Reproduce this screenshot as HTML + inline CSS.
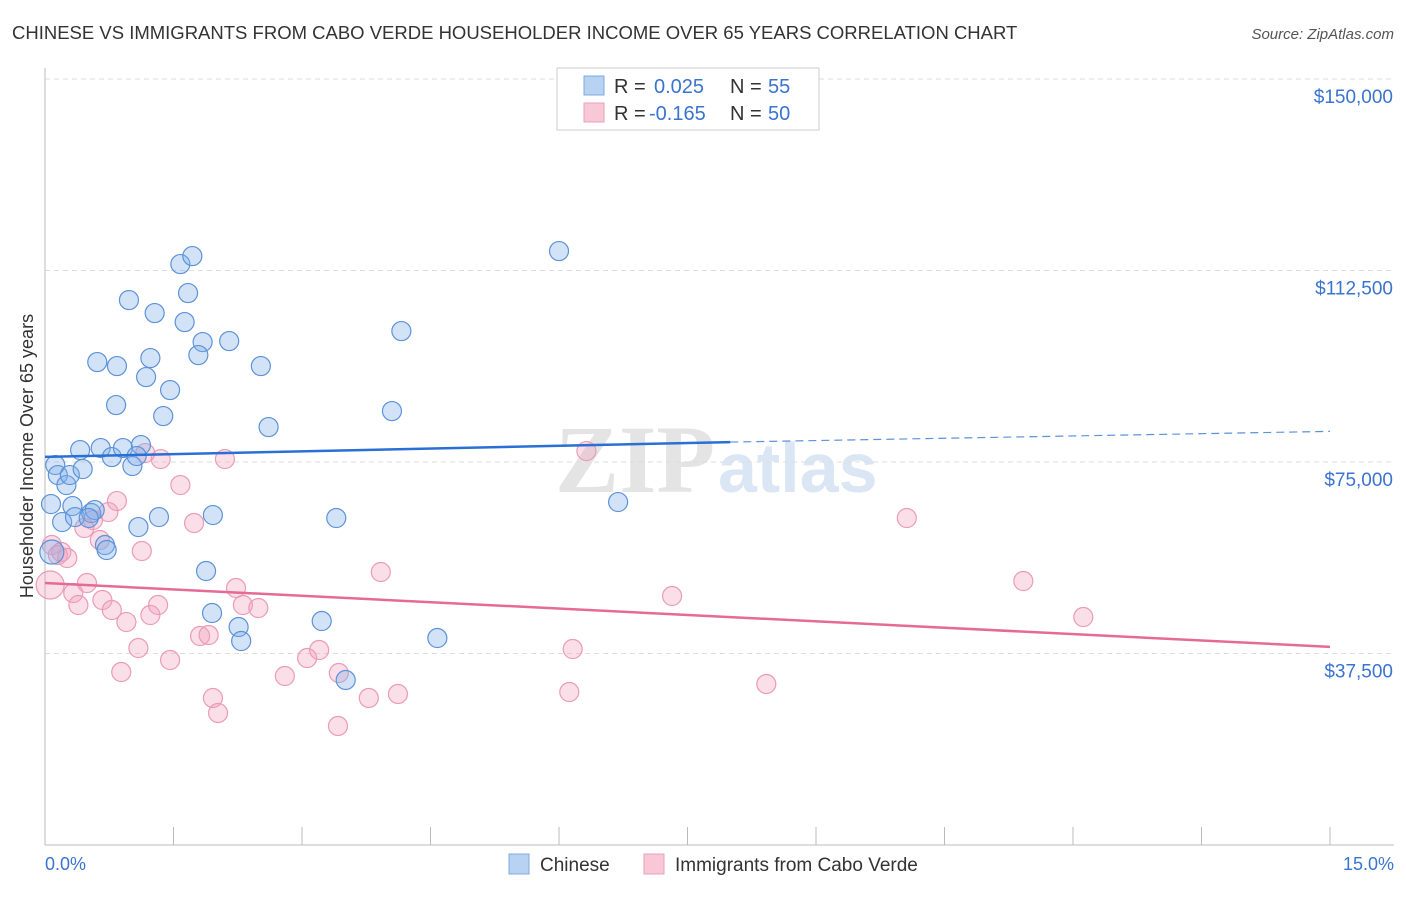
<!DOCTYPE html>
<html><head><meta charset="utf-8"><style>
body{margin:0;background:#fff;font-family:"Liberation Sans",sans-serif;}
</style></head><body>
<svg width="1406" height="892" xmlns="http://www.w3.org/2000/svg">
<text x="12" y="39" font-size="18.5" fill="#333">CHINESE VS IMMIGRANTS FROM CABO VERDE HOUSEHOLDER INCOME OVER 65 YEARS CORRELATION CHART</text>
<text x="1394" y="39" font-size="15" fill="#555" font-style="italic" text-anchor="end">Source: ZipAtlas.com</text>
<text x="555" y="492" font-size="96" fill="#e4e4e4" font-family="Liberation Serif" font-weight="bold">ZIP</text>
<text x="718" y="492" font-size="70" fill="#dbe6f5" font-weight="bold">atlas</text>
<g id="grid"></g>
<line x1="45" y1="68" x2="45" y2="845" stroke="#bbb"/>
<line x1="45" y1="845" x2="1394" y2="845" stroke="#bbb"/>
<text transform="translate(33,456) rotate(-90)" font-size="18" fill="#333" text-anchor="middle">Householder Income Over 65 years</text>
<text x="45" y="870" font-size="18" fill="#3a73d0">0.0%</text>
<text x="1394" y="870" font-size="18" fill="#3a73d0" text-anchor="end">15.0%</text>
<g id="pts"></g>
<g id="lines"></g>
<g>
<rect x="557" y="68" width="262" height="62" fill="#fff" stroke="#ccc"/>
<rect x="584" y="76" width="20" height="19" fill="#b8d2f2" stroke="#7ea8e0"/>
<rect x="584" y="103" width="20" height="19" fill="#f8c8d6" stroke="#eaa0b8"/>
<text x="614" y="93" font-size="20" fill="#333">R = <tspan x="654" fill="#3a73d0">0.025</tspan><tspan x="730">N = </tspan><tspan x="768" fill="#3a73d0">55</tspan></text>
<text x="614" y="120" font-size="20" fill="#333">R = <tspan x="649" fill="#3a73d0">-0.165</tspan><tspan x="730">N = </tspan><tspan x="768" fill="#3a73d0">50</tspan></text>
</g>
<g>
<rect x="509" y="854" width="20" height="20" fill="#b8d2f2" stroke="#7ea8e0"/>
<text x="540" y="871" font-size="19" fill="#333">Chinese</text>
<rect x="644" y="854" width="20" height="20" fill="#f8c8d6" stroke="#eaa0b8"/>
<text x="675" y="871" font-size="19" fill="#333">Immigrants from Cabo Verde</text>
</g>
</svg>
<script>
const yTicks=[37500,75000,112500,150000];
const yTickLabels=["$37,500","$75,000","$112,500","$150,000"];
const xTicks=[0,1.5,3,4.5,6,7.5,9,10.5,12,13.5,15];
const blueX=[0.12,0.15,0.25,0.29,0.44,0.41,0.65,0.78,0.91,1.12,1.02,1.07,0.07,0.20,0.32,0.35,0.54,0.58,0.51,0.70,0.72,1.09,1.33,1.96,1.88,1.95,2.26,2.29,3.23,3.51,3.40,4.58,6.69,4.05,4.16,6.00,1.58,1.72,1.67,0.98,1.28,1.63,1.84,1.79,2.15,0.61,0.84,1.23,1.18,1.46,1.38,0.83,2.52,2.61,0.08];
const blueY=[74404,72446,70488,72446,73621,77341,77733,75970,77733,78320,74208,76166,66768,63243,66376,64222,65006,65593,64027,58740,57761,62264,64222,64614,53649,45426,42684,39943,43859,32307,64027,40531,67159,84977,100641,116305,113760,115326,108082,106711,104166,102403,98487,95942,98683,94571,93788,95354,91634,89089,83998,86152,93788,81844,57369];
const pinkX=[0.06,0.08,0.15,0.19,0.26,0.33,0.39,0.49,0.46,0.56,0.67,0.74,0.84,0.78,0.95,0.89,1.09,1.13,1.23,1.32,1.46,1.35,1.58,1.74,1.81,1.91,1.96,2.02,2.10,2.23,2.31,2.49,2.80,3.06,3.20,3.43,3.42,3.78,3.92,4.12,6.32,6.12,6.16,7.32,8.42,10.06,11.42,12.12,1.17,0.64];
const pinkY=[50908,58740,56782,57369,56195,49342,46992,51300,62069,63635,47971,65201,67355,46013,43663,33873,38573,57565,45034,46992,36223,75579,70488,63048,40922,41118,28783,25846,75579,50321,46992,46405,33090,36615,38181,33677,23300,28783,53453,29566,77146,29957,38377,48754,31524,64027,51691,44642,76754,59719];
const blueTrend=[[0,76000],[8.0,78900],[15,81000]];
const pinkTrend=[[0,51300],[15,38800]];
const NS="http://www.w3.org/2000/svg";
const X=v=>45+v/15*1285;
const Y=v=>845-v/37500*191.5;
function mk(t,a,p){const e=document.createElementNS(NS,t);for(const k in a)e.setAttribute(k,a[k]);p.appendChild(e);return e;}
const grid=document.getElementById('grid');
yTicks.forEach((t,i)=>{
 const l=mk('line',{x1:45,x2:1394,y1:Y(t),y2:Y(t),stroke:'#ddd','stroke-dasharray':'5,4'},grid);
 
 
 const tx=mk('text',{x:1393,y:Y(t)+24,'font-size':19,fill:'#3a73d0','text-anchor':'end'},grid);
 tx.textContent=yTickLabels[i];
 
 
});
xTicks.forEach(t=>{
 const l=mk('line',{x1:X(t),x2:X(t),y1:827,y2:845,stroke:'#bbb'},grid);
 
 
});
const pts=document.getElementById('pts');
pinkX.forEach((x,i)=>{
 const c=mk('circle',{cx:X(x),cy:Y(pinkY[i]),r:i==0?14:9.5,fill:'rgba(242,160,188,0.35)',stroke:'#eb9bb5','stroke-width':1.2},pts);
 
 
});
blueX.forEach((x,i)=>{
 const c=mk('circle',{cx:X(x),cy:Y(blueY[i]),r:i==blueX.length-1?12:9.5,fill:'rgba(130,175,232,0.35)',stroke:'#5c92d8','stroke-width':1.2},pts);
 
 
});
const lines=document.getElementById('lines');
const b1=mk('line',{x1:X(blueTrend[0][0]),y1:Y(blueTrend[0][1]),x2:X(blueTrend[1][0]),y2:Y(blueTrend[1][1]),stroke:'#2a6fd4','stroke-width':2.5},lines);


const b2=mk('line',{x1:X(blueTrend[1][0]),y1:Y(blueTrend[1][1]),x2:X(blueTrend[2][0]),y2:Y(blueTrend[2][1]),stroke:'#5c92d8','stroke-width':1.2,'stroke-dasharray':'8,5'},lines);


const p1=mk('line',{x1:X(pinkTrend[0][0]),y1:Y(pinkTrend[0][1]),x2:X(pinkTrend[1][0]),y2:Y(pinkTrend[1][1]),stroke:'#e66a96','stroke-width':2.5},lines);


</script>
</body></html>
